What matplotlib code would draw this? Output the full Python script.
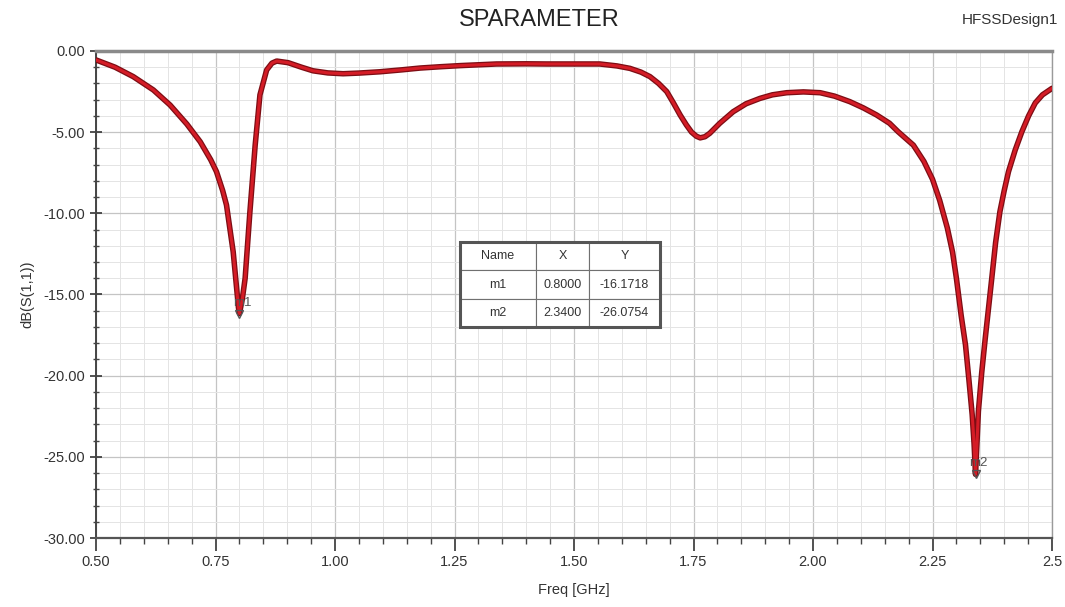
import matplotlib
matplotlib.use("Agg")
import matplotlib.pyplot as plt
from matplotlib.ticker import MultipleLocator, FixedLocator, FixedFormatter
from matplotlib.patches import Rectangle

plt.rcParams['font.family'] = ['Liberation Sans', 'DejaVu Sans']

# ---- data ----
freq_ghz = [0.50, 0.54, 0.578, 0.62, 0.655, 0.69, 0.718, 0.74, 0.752, 0.765, 0.773,
            0.787, 0.798, 0.800, 0.806, 0.812, 0.822, 0.833, 0.843, 0.857, 0.868,
            0.878, 0.902, 0.93, 0.954, 0.985, 1.017, 1.05, 1.094, 1.14, 1.178, 1.22,
            1.262, 1.30, 1.338, 1.40, 1.443, 1.50, 1.554, 1.59, 1.617, 1.64, 1.659,
            1.677, 1.694, 1.708, 1.722, 1.735, 1.746, 1.756, 1.764, 1.774, 1.784,
            1.805, 1.833, 1.86, 1.889, 1.915, 1.945, 1.98, 2.015, 2.045, 2.077,
            2.105, 2.133, 2.16, 2.178, 2.21, 2.232, 2.25, 2.265, 2.281, 2.292, 2.30,
            2.31, 2.319, 2.326, 2.333, 2.337, 2.34, 2.343, 2.346, 2.353, 2.36, 2.367,
            2.374, 2.382, 2.391, 2.40, 2.409, 2.423, 2.437, 2.451, 2.465, 2.48, 2.50]
s11_db = [-0.55, -1.0, -1.58, -2.4, -3.33, -4.5, -5.59, -6.7, -7.43, -8.6, -9.49,
          -12.37, -15.8, -16.17, -15.3, -14.0, -9.9, -5.8, -2.7, -1.17, -0.75,
          -0.62, -0.72, -1.0, -1.22, -1.35, -1.40, -1.36, -1.28, -1.16, -1.05, -0.97,
          -0.9, -0.85, -0.8, -0.79, -0.8, -0.8, -0.8, -0.92, -1.07, -1.3, -1.58,
          -2.0, -2.5, -3.2, -3.94, -4.55, -5.0, -5.25, -5.35, -5.28, -5.07,
          -4.45, -3.74, -3.25, -2.92, -2.7, -2.57, -2.52, -2.57, -2.78, -3.12,
          -3.5, -3.94, -4.45, -4.97, -5.8, -6.8, -7.9, -9.2, -10.9, -12.4, -14.0,
          -16.3, -18.1, -20.2, -22.4, -24.2, -26.08, -24.2, -22.2, -19.8, -17.8, -15.9,
          -14.0, -11.8, -9.9, -8.6, -7.43, -6.1, -4.97, -4.0, -3.2, -2.7, -2.3]

marker_names = ["m1", "m2"]
marker_x = [0.8000, 2.3400]
marker_y = [-16.1718, -26.0754]

x_ticks = [0.50, 0.75, 1.00, 1.25, 1.50, 1.75, 2.00, 2.25, 2.50]
x_tick_labels = ["0.50", "0.75", "1.00", "1.25", "1.50", "1.75", "2.00", "2.25", "2.5"]
y_ticks = [0, -5, -10, -15, -20, -25, -30]
y_tick_labels = ["0.00", "-5.00", "-10.00", "-15.00", "-20.00", "-25.00", "-30.00"]

# ---- figure ----
W, H = 1065, 607
fig = plt.figure(figsize=(W / 100, H / 100), dpi=100)
fig.patch.set_facecolor("white")
ax = fig.add_axes([96 / W, (H - 538) / H, 956 / W, 487 / H])

ax.set_xlim(0.5, 2.5)
ax.set_ylim(-30, 0)

ax.xaxis.set_major_locator(FixedLocator(x_ticks))
ax.xaxis.set_major_formatter(FixedFormatter(x_tick_labels))
ax.xaxis.set_minor_locator(MultipleLocator(0.05))
ax.yaxis.set_major_locator(FixedLocator(y_ticks))
ax.yaxis.set_major_formatter(FixedFormatter(y_tick_labels))
ax.yaxis.set_minor_locator(MultipleLocator(1))

ax.grid(which="major", color="#c4c4c4", linewidth=0.9)
ax.grid(which="minor", color="#e4e4e4", linewidth=0.7)
ax.set_axisbelow(True)

ax.tick_params(axis="both", which="major", labelsize=10.5, colors="#333333",
               length=9, width=1.2, direction="out")
ax.tick_params(axis="both", which="minor", length=4, width=1.0, colors="#444444",
               direction="out")
ax.tick_params(axis="y", which="both", direction="inout")

for side, c, lw in [("top", "#8a8a8a", 2.5), ("bottom", "#555555", 1.6),
                    ("left", "#444444", 1.4), ("right", "#9a9a9a", 1.0)]:
    ax.spines[side].set_color(c)
    ax.spines[side].set_linewidth(lw)

# curve
ax.plot(freq_ghz, s11_db, color="#7d0d14", linewidth=4.0, solid_joinstyle="round",
        solid_capstyle="round", zorder=3)
ax.plot(freq_ghz, s11_db, color="#d41c26", linewidth=2.2, solid_joinstyle="round",
        solid_capstyle="round", zorder=4)

# markers
for name, mx, my in zip(marker_names, marker_x, marker_y):
    ax.plot([mx], [my], marker="v", markersize=6, markerfacecolor="none",
            markeredgecolor="#555555", markeredgewidth=1.0, zorder=5)
    ax.text(mx + 0.006, my + 0.3, name, fontsize=9.5, color="#555555",
            ha="center", va="bottom", zorder=5)

# marker table
cell_text = [[n, f"{x:.4f}", f"{y:.4f}"] for n, x, y in zip(marker_names, marker_x, marker_y)]
tx0 = (460 - 96) / 956
tw = (660 - 460) / 956
ty0 = (538 - 327) / 487
th = (327 - 242) / 487
tbl = ax.table(cellText=cell_text, colLabels=["Name", "X", "Y"],
               cellLoc="center", bbox=[tx0, ty0, tw, th], zorder=6,
               colWidths=[76, 53, 71])
tbl.auto_set_font_size(False)
tbl.set_fontsize(9)
for (r, c), cell in tbl.get_celld().items():
    cell.set_edgecolor("#707070")
    cell.set_linewidth(0.8)
    cell.set_facecolor("white")
    cell.get_text().set_color("#333333")
ax.add_patch(Rectangle((tx0, ty0), tw, th, transform=ax.transAxes, fill=False,
                       edgecolor="#555555", linewidth=2.2, zorder=7, clip_on=False))

# labels
ax.set_xlabel("Freq [GHz]", fontsize=10.5, color="#333333", labelpad=10)
ax.set_ylabel("dB(S(1,1))", fontsize=10.5, color="#333333", labelpad=6)
fig.text(539 / W, 1 - 20 / H, "SPARAMETER", fontsize=17, color="#222222",
         ha="center", va="center")
fig.text(1010 / W, 1 - 20 / H, "HFSSDesign1", fontsize=11, color="#333333",
         ha="center", va="center")

fig.savefig("out.png", dpi=100, facecolor="white")
